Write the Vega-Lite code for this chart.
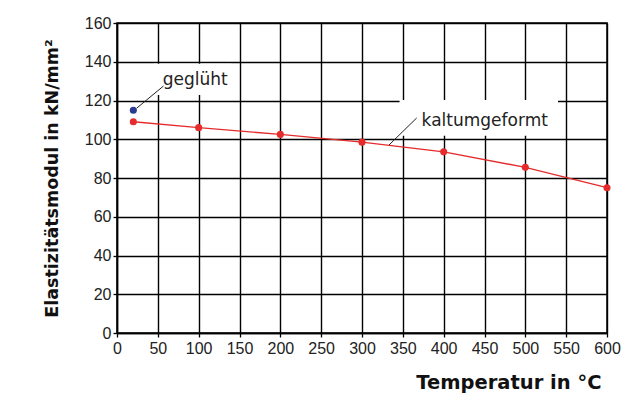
{
  "$schema": "https://vega.github.io/schema/vega-lite/v6.json",
  "width": 490,
  "height": 310,
  "autosize": {"type": "none"},
  "padding": {"left": 117, "top": 23, "right": 34, "bottom": 64},
  "background": "white",
  "config": {
    "view": {"stroke": "#000000", "strokeWidth": 1.5},
    "axis": {
      "domainColor": "#000000",
      "domainWidth": 1.5,
      "gridColor": "#000000",
      "gridOpacity": 1,
      "gridWidth": 1.4,
      "tickColor": "#000000",
      "tickSize": 4,
      "tickWidth": 1.3,
      "labelFont": "Liberation Sans",
      "labelFontSize": 16,
      "labelColor": "#222222",
      "titleFont": "DejaVu Sans",
      "titleFontWeight": "bold",
      "titleColor": "#111111"
    }
  },
  "datasets": {
    "series": [
      {"t": 20, "e": 109, "serie": "kaltumgeformt"},
      {"t": 100, "e": 106, "serie": "kaltumgeformt"},
      {"t": 200, "e": 102.5, "serie": "kaltumgeformt"},
      {"t": 300, "e": 98.5, "serie": "kaltumgeformt"},
      {"t": 400, "e": 93.5, "serie": "kaltumgeformt"},
      {"t": 500, "e": 85.5, "serie": "kaltumgeformt"},
      {"t": 600, "e": 75, "serie": "kaltumgeformt"},
      {"t": 20, "e": 115, "serie": "geglüht"}
    ],
    "boxes": [
      {"t": 45, "t2": 140, "e": 122.8, "e2": 139},
      {"t": 346, "t2": 540, "e": 101.8, "e2": 120.3}
    ],
    "leaders": [
      {"t": 24, "e": 116, "t2": 57, "e2": 127.5},
      {"t": 333, "e": 97, "t2": 367, "e2": 111}
    ],
    "labels": [
      {"t": 56, "e": 128, "text": "geglüht"},
      {"t": 373, "e": 107, "text": "kaltumgeformt"}
    ]
  },
  "encoding": {
    "x": {
      "field": "t",
      "type": "quantitative",
      "scale": {"domain": [0, 600], "nice": false, "zero": false},
      "axis": {
        "values": [0, 50, 100, 150, 200, 250, 300, 350, 400, 450, 500, 550, 600],
        "labelFlush": false,
        "labelOverlap": false,
        "labelPadding": 3,
        "title": "Temperatur in °C",
        "titleFontSize": 19.5,
        "titleX": 484,
        "titleY": 55,
        "titleAlign": "right",
        "titleBaseline": "alphabetic"
      }
    },
    "y": {
      "field": "e",
      "type": "quantitative",
      "scale": {"domain": [0, 160], "nice": false, "zero": false},
      "axis": {
        "values": [0, 20, 40, 60, 80, 100, 120, 140, 160],
        "labelFlush": false,
        "labelOverlap": false,
        "labelPadding": 2,
        "title": "Elastizitätsmodul in kN/mm²",
        "titleFontSize": 17.5,
        "titleAngle": -90,
        "titleX": -60,
        "titleY": 155,
        "titleAlign": "center",
        "titleBaseline": "alphabetic"
      }
    }
  },
  "layer": [
    {
      "data": {"name": "boxes"},
      "mark": {"type": "rect", "fill": "white", "strokeWidth": 0},
      "encoding": {"x2": {"field": "t2"}, "y2": {"field": "e2"}}
    },
    {
      "data": {"name": "series"},
      "mark": {"type": "line", "strokeWidth": 1.4},
      "encoding": {
        "color": {
          "field": "serie",
          "type": "nominal",
          "scale": {"domain": ["kaltumgeformt", "geglüht"], "range": ["#e52b2b", "#2b3c8e"]},
          "legend": null
        }
      }
    },
    {
      "data": {"name": "series"},
      "mark": {"type": "circle", "size": 50, "opacity": 1},
      "encoding": {
        "color": {
          "field": "serie",
          "type": "nominal",
          "scale": {"domain": ["kaltumgeformt", "geglüht"], "range": ["#e52b2b", "#2b3c8e"]},
          "legend": null
        }
      }
    },
    {
      "data": {"name": "leaders"},
      "mark": {"type": "rule", "color": "#222222", "strokeWidth": 1},
      "encoding": {"x2": {"field": "t2"}, "y2": {"field": "e2"}}
    },
    {
      "data": {"name": "labels"},
      "mark": {"type": "text", "font": "DejaVu Sans", "fontSize": 17, "align": "left", "baseline": "alphabetic", "color": "#222222"},
      "encoding": {"text": {"field": "text"}}
    }
  ]
}
